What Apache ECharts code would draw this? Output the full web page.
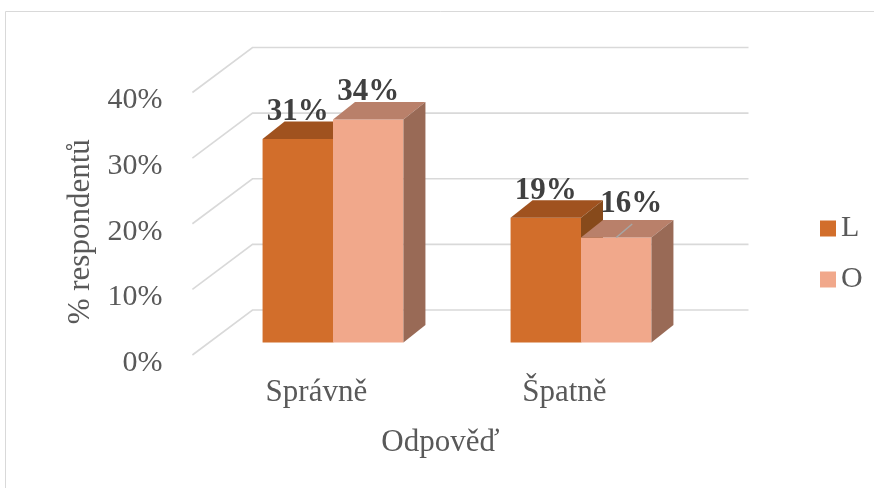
<!DOCTYPE html>
<html>
<head>
<meta charset="utf-8">
<script src="https://cdn.jsdelivr.net/npm/echarts@6/dist/echarts.min.js"></script>
<style>
  html, body { margin: 0; padding: 0; background: #ffffff; }
  #chart { width: 874px; height: 488px; }
</style>
</head>
<body>
<div id="chart"></div>
<script>
// ---- data ----
const categories = ['Správně', 'Špatně'];
const seriesNames = ['L', 'O'];
const valuesL = [31, 19];
const valuesO = [34, 16];
const yTicks = [0, 10, 20, 30, 40];

// ---- look ----
const FONT = '"Liberation Serif", "Times New Roman", serif';
const TEXT_GREY = '#595959';
const LABEL_GREY = '#404040';
const GRID_GREY = '#d9d9d9';
const faces = {
  L: { front: '#D26E2B', top: '#A0521F', side: '#874A1B' },
  O: { front: '#F1A88B', top: '#B9806A', side: '#996A56' }
};
// 3D oblique projection of the bar depth and of the floor/back wall
const BAR_DEPTH = [22, -17.5];
const WALL_BACK = [43.5, -32.5];
const FLOOR_FRONT = [-16.6, 12.5];
const BAR_FRACTION = 0.284;
// label nudges (series -> category -> [dx, dy]) for labels that were moved off their bar
const labelNudge = { O: { 1: [15, -7] } };

const chart = echarts.init(document.getElementById('chart'), null, { renderer: 'canvas' });

function barRenderer(name, sIdx) {
  const c = faces[name];
  return function (params, api) {
    const cat = api.value(0);
    const v = api.value(1);
    const base = api.coord([cat, 0]);
    const top = api.coord([cat, v]);
    const band = api.size([1, 0])[0];
    const w = band * BAR_FRACTION;
    const x0 = base[0] + (sIdx === 0 ? -w : 0);
    const x1 = x0 + w;
    const yb = base[1];
    const yt = top[1];
    const [dx, dy] = BAR_DEPTH;
    const children = [
      { type: 'rect', shape: { x: x0, y: yt, width: w, height: yb - yt }, style: { fill: c.front } },
      { type: 'polygon', shape: { points: [[x0, yt], [x1, yt], [x1 + dx, yt + dy], [x0 + dx, yt + dy]] }, style: { fill: c.top } },
      { type: 'polygon', shape: { points: [[x1, yt], [x1 + dx, yt + dy], [x1 + dx, yb + dy], [x1, yb]] }, style: { fill: c.side } }
    ];
    const cx = (x0 + x1) / 2;
    const nudge = (labelNudge[name] && labelNudge[name][cat]) || [0, 0];
    if (nudge[0] || nudge[1]) {
      children.push({
        type: 'line',
        shape: { x1: cx, y1: yt, x2: cx + nudge[0] + 1, y2: yt - 13.5 },
        style: { stroke: '#a6a6a6', lineWidth: 1.5 }
      });
    }
    children.push({
      type: 'text',
      style: {
        text: v + '%',
        x: cx + nudge[0],
        y: yt - 27 + nudge[1],
        align: 'center',
        verticalAlign: 'middle',
        textAlign: 'center',
        textVerticalAlign: 'middle',
        font: 'bold 31px ' + FONT,
        fill: LABEL_GREY
      }
    });
    return { type: 'group', children: children };
  };
}

function wallRenderer(params, api) {
  const v = api.value(0);
  const p = api.coord([0, v]);
  const cs = params.coordSys;
  const left = cs.x;
  const right = cs.x + cs.width;
  const y = p[1];
  return {
    type: 'polyline',
    shape: {
      points: [
        [left + FLOOR_FRONT[0], y + FLOOR_FRONT[1]],
        [left + WALL_BACK[0], y + WALL_BACK[1]],
        [right + WALL_BACK[0], y + WALL_BACK[1]]
      ]
    },
    style: { stroke: GRID_GREY, lineWidth: 1.6, fill: null }
  };
}

const option = {
  backgroundColor: '#ffffff',
  animation: false,
  graphic: [{
    type: 'rect',
    shape: { x: 5.5, y: 11.5, width: 900, height: 500 },
    style: { stroke: '#d9d9d9', fill: null, lineWidth: 1 },
    silent: true
  }],
  legend: {
    data: seriesNames,
    orient: 'vertical',
    left: 815,
    top: 208,
    itemWidth: 16,
    itemHeight: 16,
    itemGap: 20,
    icon: 'rect',
    textStyle: { fontFamily: FONT, fontSize: 30, color: TEXT_GREY, lineHeight: 31 }
  },
  grid: [
    // plane of the bar fronts
    { left: 209, top: 80, width: 496, height: 262.5 },
    // axis texts, set just below the front edge of the floor
    { left: 192.4, top: 100.5, width: 496, height: 262.5 }
  ],
  xAxis: [
    { gridIndex: 0, type: 'category', data: categories, show: false },
    {
      gridIndex: 1, type: 'category', data: categories,
      axisLine: { show: false }, axisTick: { show: false },
      axisLabel: { fontFamily: FONT, fontSize: 31, color: TEXT_GREY, margin: 14 },
      name: 'Odpověď', nameLocation: 'middle', nameGap: 64,
      nameTextStyle: { fontFamily: FONT, fontSize: 31, color: TEXT_GREY }
    }
  ],
  yAxis: [
    { gridIndex: 0, type: 'value', min: 0, max: 40, interval: 10, show: false },
    {
      gridIndex: 1, type: 'value', min: 0, max: 40, interval: 10,
      axisLine: { show: false }, axisTick: { show: false }, splitLine: { show: false },
      axisLabel: {
        fontFamily: FONT, fontSize: 30, color: TEXT_GREY, margin: 30,
        formatter: '{value}%'
      },
      name: '% respondentů', nameLocation: 'middle', nameGap: 91,
      nameTextStyle: { fontFamily: FONT, fontSize: 31, color: TEXT_GREY }
    }
  ],
  series: [
    {
      type: 'custom', name: 'wall', xAxisIndex: 0, yAxisIndex: 0, z: 1, silent: true,
      renderItem: wallRenderer,
      encode: { x: -1, y: 0 },
      data: yTicks.map(t => [t])
    },
    {
      type: 'custom', name: seriesNames[0], xAxisIndex: 0, yAxisIndex: 0, z: 2,
      itemStyle: { color: faces.L.front },
      renderItem: barRenderer('L', 0),
      encode: { x: 0, y: 1 },
      data: valuesL.map((v, i) => [i, v])
    },
    {
      type: 'custom', name: seriesNames[1], xAxisIndex: 0, yAxisIndex: 0, z: 3,
      itemStyle: { color: faces.O.front },
      renderItem: barRenderer('O', 1),
      encode: { x: 0, y: 1 },
      data: valuesO.map((v, i) => [i, v])
    }
  ]
};

chart.setOption(option);
</script>
</body>
</html>
